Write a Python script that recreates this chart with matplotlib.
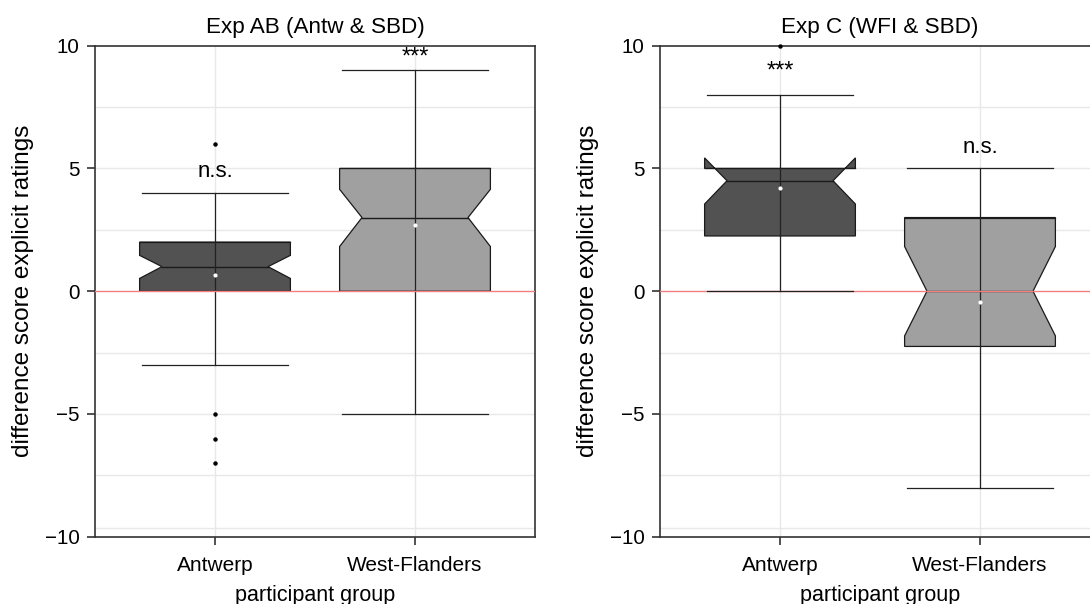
import numpy as np
import matplotlib
matplotlib.use('Agg')
import matplotlib.pyplot as plt

plt.rcParams['font.family'] = ['Liberation Sans', 'DejaVu Sans']

# Данные: статистики ящиков по двум экспериментам
groups = ['Antwerp', 'West-Flanders']
titles = ['Exp AB (Antw & SBD)', 'Exp C (WFI & SBD)']

q1 = [[0, 0], [2.25, -2.25]]
q3 = [[2, 5], [5, 3]]
median = [[1, 3], [4.5, 0]]
notch_lo = [[0.52, 1.82], [3.55, -1.82]]
notch_hi = [[1.46, 4.15], [5.43, 1.82]]
mean = [[0.68, 2.68], [4.2, -0.43]]
whisk_lo = [[-3, -5], [0, -8]]
whisk_hi = [[4, 9], [8, 5]]
outliers = [[[6, -5, -6, -7], []], [[10], []]]
labels = [['n.s.', '***'], ['***', 'n.s.']]
label_y = [[4.66, 9.5], [8.95, 5.62]]

grid_y = [7.5, 5, 2.5, -2.5, -5, -7.5, -9.66]
box_colors = ['#525252', '#a0a0a0']

W, H = 1090, 604
fig = plt.figure(figsize=(W / 100, H / 100), dpi=100)
ax_left = [95, 660]
axes = []
for k in range(2):
    ax = fig.add_axes([ax_left[k] / W, (H - 536.7) / H, 440 / W, 491 / H])
    axes.append(ax)

hw = 0.377   # половина ширины ящика
nw = 0.265   # половина ширины в месте выемки

for k, ax in enumerate(axes):
    ax.set_xlim(0.4, 2.6)
    ax.set_ylim(-10, 10)

    # сетка
    for g in grid_y:
        ax.axhline(g, color='#e8e8e8', lw=1.0, zorder=0)
    for i in range(2):
        ax.axvline(i + 1, color='#e8e8e8', lw=1.0, zorder=0)

    for i in range(2):
        x = i + 1
        # усы и концы усов
        ax.plot([x, x], [whisk_lo[k][i], whisk_hi[k][i]], color='#222222', lw=0.9, zorder=1)
        ax.plot([x - hw + 0.01, x + hw - 0.01], [whisk_hi[k][i]] * 2, color='#222222', lw=0.9, zorder=4)
        ax.plot([x - hw + 0.01, x + hw - 0.01], [whisk_lo[k][i]] * 2, color='#222222', lw=0.9, zorder=4)

        # ящик с выемкой
        bx = [x - hw, x - hw, x - nw, x - hw, x - hw, x + hw, x + hw, x + nw, x + hw, x + hw]
        by = [q1[k][i], notch_lo[k][i], median[k][i], notch_hi[k][i], q3[k][i],
              q3[k][i], notch_hi[k][i], median[k][i], notch_lo[k][i], q1[k][i]]
        ax.fill(bx, by, facecolor=box_colors[i], edgecolor='#1a1a1a', lw=0.9, zorder=2)
        # линия q3 поверх выемки (если выемка выходит за ящик)
        ax.plot([x - hw, x + hw], [q3[k][i]] * 2, color='#1a1a1a', lw=0.9, zorder=2.5)
        ax.plot([x - nw, x + nw], [median[k][i]] * 2, color='#1a1a1a', lw=1.0, zorder=2.5)
        ax.plot([x, x], [q1[k][i], q3[k][i]], color='#222222', lw=0.9, zorder=2.6)

        # среднее и выбросы
        ax.plot(x, mean[k][i], 'o', color='white', ms=3, mec='none', zorder=5)
        if outliers[k][i]:
            ax.plot([x] * len(outliers[k][i]), outliers[k][i], 'o', color='black', ms=3.2,
                    mec='none', zorder=5, clip_on=False)

        if labels[k][i] == '***':
            ax.text(x, label_y[k][i], labels[k][i], ha='center', va='center', fontsize=17)
        else:
            ax.text(x, label_y[k][i], labels[k][i], ha='center', va='baseline', fontsize=16)

    ax.axhline(0, color='#f08080', lw=1.0, zorder=3)

    ax.set_xticks([1, 2])
    ax.set_xticklabels(groups, fontsize=15)
    ax.set_yticks([-10, -5, 0, 5, 10])
    ax.set_yticklabels(['\u221210', '\u22125', '0', '5', '10'], fontsize=14.8)
    ax.tick_params(length=6, width=1.2, color='#333333', pad=5)
    ax.tick_params(axis='x', pad=8)
    for s in ax.spines.values():
        s.set_color('#333333')
        s.set_linewidth(1.2)
    ax.set_title(titles[k], fontsize=16.2, pad=9)
    ax.set_xlabel('participant group', fontsize=15.5, labelpad=7)
    ax.set_ylabel('difference score explicit ratings', fontsize=17.5, labelpad=8)

fig.savefig('out.png', dpi=100)
